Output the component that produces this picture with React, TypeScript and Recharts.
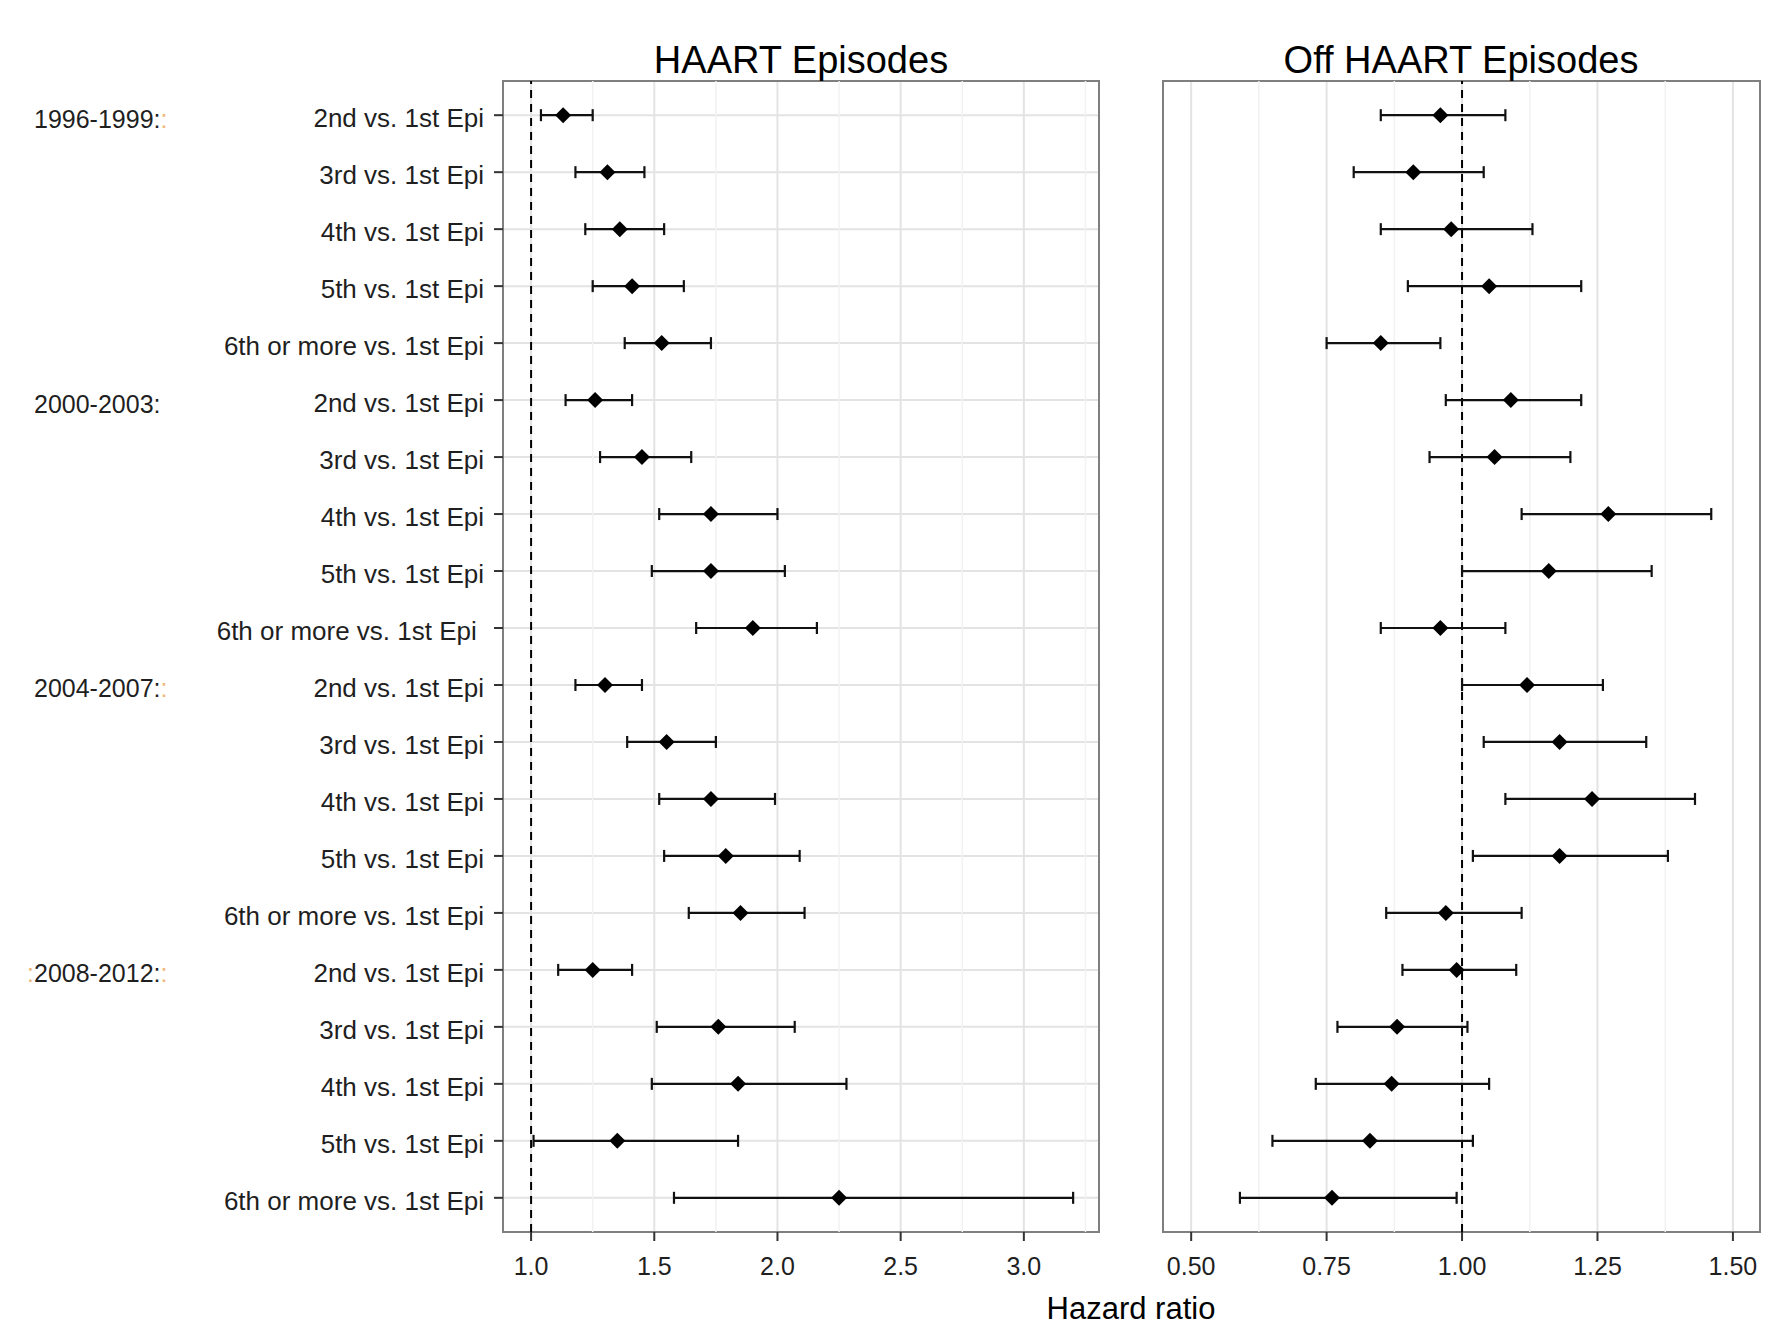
import {
  ScatterChart,
  Scatter,
  XAxis,
  YAxis,
  CartesianGrid,
  ErrorBar,
  ReferenceLine,
  ReferenceArea,
} from "recharts";

const FONT = '"Liberation Sans", Arial, Helvetica, sans-serif';
const ARTIFACT = "#f0b878";

// y-axis labels, top to bottom
const comparisons = [
  "2nd vs. 1st Epi",
  "3rd vs. 1st Epi",
  "4th vs. 1st Epi",
  "5th vs. 1st Epi",
  "6th or more vs. 1st Epi",
  "2nd vs. 1st Epi",
  "3rd vs. 1st Epi",
  "4th vs. 1st Epi",
  "5th vs. 1st Epi",
  "6th or more vs. 1st Epi\u00a0",
  "2nd vs. 1st Epi",
  "3rd vs. 1st Epi",
  "4th vs. 1st Epi",
  "5th vs. 1st Epi",
  "6th or more vs. 1st Epi",
  "2nd vs. 1st Epi",
  "3rd vs. 1st Epi",
  "4th vs. 1st Epi",
  "5th vs. 1st Epi",
  "6th or more vs. 1st Epi",
];

// calendar period group labels and the row they sit on
const periods = ["1996-1999:", "2000-2003:", "2004-2007:", "2008-2012:"];
const periodPre = ["", "", "", ":"];
const periodPost = [":", "", ":", ":"];
const periodRows = [1, 6, 11, 16];

// HAART episodes: hazard ratio and 95% CI
const haartHr = [1.13, 1.31, 1.36, 1.41, 1.53, 1.26, 1.45, 1.73, 1.73, 1.9, 1.3, 1.55, 1.73, 1.79, 1.85, 1.25, 1.76, 1.84, 1.35, 2.25];
const haartLo = [1.04, 1.18, 1.22, 1.25, 1.38, 1.14, 1.28, 1.52, 1.49, 1.67, 1.18, 1.39, 1.52, 1.54, 1.64, 1.11, 1.51, 1.49, 1.01, 1.58];
const haartHi = [1.25, 1.46, 1.54, 1.62, 1.73, 1.41, 1.65, 2.0, 2.03, 2.16, 1.45, 1.75, 1.99, 2.09, 2.11, 1.41, 2.07, 2.28, 1.84, 3.2];

// Off HAART episodes
const offHr = [0.96, 0.91, 0.98, 1.05, 0.85, 1.09, 1.06, 1.27, 1.16, 0.96, 1.12, 1.18, 1.24, 1.18, 0.97, 0.99, 0.88, 0.87, 0.83, 0.76];
const offLo = [0.85, 0.8, 0.85, 0.9, 0.75, 0.97, 0.94, 1.11, 1.0, 0.85, 1.0, 1.04, 1.08, 1.02, 0.86, 0.89, 0.77, 0.73, 0.65, 0.59];
const offHi = [1.08, 1.04, 1.13, 1.22, 0.96, 1.22, 1.2, 1.46, 1.35, 1.08, 1.26, 1.34, 1.43, 1.38, 1.11, 1.1, 1.01, 1.05, 1.02, 0.99];

const haartTicks = [1.0, 1.5, 2.0, 2.5, 3.0];
const haartMinor = [1.25, 1.75, 2.25, 2.75, 3.25];
const haartDomain = [0.886, 3.305];
const offTicks = [0.5, 0.75, 1.0, 1.25, 1.5];
const offMinor = [0.625, 0.875, 1.125, 1.375];
const offDomain = [0.448, 1.55];

const rowTicks = comparisons.map((_, i) => i + 1);
const rowDomain = [0.4, 20.6];

function buildRows(hr: number[], lo: number[], hi: number[]) {
  return hr.map((v, i) => ({
    row: i + 1,
    hr: v,
    err: [v - lo[i], hi[i] - v],
  }));
}

const haartData = buildRows(haartHr, haartLo, haartHi);
const offData = buildRows(offHr, offLo, offHi);

function Diamond(props: any) {
  const { cx, cy } = props;
  const r = 8;
  return (
    <polygon
      points={`${cx},${cy - r} ${cx + r},${cy} ${cx},${cy + r} ${cx - r},${cy}`}
      fill="#000"
    />
  );
}

function RowTick(props: any) {
  const { x, y, payload } = props;
  const i = payload.value - 1;
  const p = periodRows.indexOf(payload.value);
  return (
    <g>
      <text
        x={x}
        y={y}
        dy="0.45em"
        textAnchor="end"
        fill="#1f1f1f"
        fontSize={26}
        fontFamily={FONT}
      >
        {comparisons[i]}
      </text>
      {p >= 0 && (
        <>
          <text x={34} y={y} dy="0.5em" textAnchor="end" fill={ARTIFACT} fontSize={25} fontFamily={FONT}>
            {periodPre[p]}
          </text>
          <text x={34} y={y} dy="0.5em" textAnchor="start" fill="#1f1f1f" fontSize={25} fontFamily={FONT}>
            {periods[p]}
            <tspan fill={ARTIFACT}>{periodPost[p]}</tspan>
          </text>
        </>
      )}
    </g>
  );
}

interface PanelProps {
  data: { row: number; hr: number; err: number[] }[];
  domain: number[];
  ticks: number[];
  minor: number[];
  digits: number;
  width: number;
  yWidth: number;
  right: number;
  labels: boolean;
}

function Panel({ data, domain, ticks, minor, digits, width, yWidth, right, labels }: PanelProps) {
  return (
    <ScatterChart
      width={width}
      height={1328}
      margin={{ top: 81, right, bottom: 0, left: 0 }}
    >
      <CartesianGrid stroke="#e3e3e3" strokeWidth={2} />
      {minor.map((m) => (
        <ReferenceLine key={m} x={m} stroke="#f2f2f2" strokeWidth={1.5} />
      ))}
      <XAxis
        type="number"
        dataKey="hr"
        domain={domain}
        ticks={ticks}
        allowDataOverflow
        interval={0}
        tickFormatter={(v: number) => v.toFixed(digits)}
        height={96}
        tickSize={9}
        tickMargin={16}
        axisLine={false}
        tickLine={{ stroke: "#333", strokeWidth: 2 }}
        tick={{ fill: "#1f1f1f", fontSize: 25, fontFamily: FONT }}
      />
      <YAxis
        type="number"
        dataKey="row"
        domain={rowDomain}
        reversed
        ticks={rowTicks}
        interval={0}
        allowDataOverflow
        width={yWidth}
        tickSize={9}
        tickMargin={10}
        axisLine={false}
        tickLine={{ stroke: "#333", strokeWidth: 2 }}
        tick={labels ? <RowTick /> : false}
      />
      <ReferenceLine x={1} stroke="#000" strokeWidth={2} strokeDasharray="8 6" />
      <Scatter data={data} shape={Diamond} isAnimationActive={false}>
        <ErrorBar
          dataKey="err"
          direction="x"
          width={6}
          stroke="#111"
          strokeWidth={2.2}
          isAnimationActive={false}
        />
      </Scatter>
      <ReferenceArea
        x1={domain[0]}
        x2={domain[1]}
        y1={rowDomain[0]}
        y2={rowDomain[1]}
        fill="none"
        fillOpacity={0}
        stroke="#7f7f7f"
        strokeWidth={2}
      />
    </ScatterChart>
  );
}

export default function App() {
  return (
    <div
      style={{
        position: "absolute",
        left: 0,
        top: 0,
        width: 1792,
        height: 1328,
        background: "#fff",
        fontFamily: FONT,
      }}
    >
      <div style={{ position: "absolute", left: 0, top: 0 }}>
        <Panel
          data={haartData}
          domain={haartDomain}
          ticks={haartTicks}
          minor={haartMinor}
          digits={1}
          width={1105}
          yWidth={503}
          right={6}
          labels
        />
      </div>
      <div style={{ position: "absolute", left: 1110, top: 0 }}>
        <Panel
          data={offData}
          domain={offDomain}
          ticks={offTicks}
          minor={offMinor}
          digits={2}
          width={682}
          yWidth={53}
          right={32}
          labels={false}
        />
      </div>
      <svg
        width={1792}
        height={1328}
        style={{ position: "absolute", left: 0, top: 0, pointerEvents: "none" }}
      >
        <text x={801} y={73} textAnchor="middle" fontSize={38} fontFamily={FONT} fill="#000">
          HAART Episodes
        </text>
        <text x={1461} y={73} textAnchor="middle" fontSize={38} fontFamily={FONT} fill="#000">
          Off HAART Episodes
        </text>
        <text x={1131} y={1319} textAnchor="middle" fontSize={31} fontFamily={FONT} fill="#000">
          Hazard ratio
        </text>
      </svg>
    </div>
  );
}
